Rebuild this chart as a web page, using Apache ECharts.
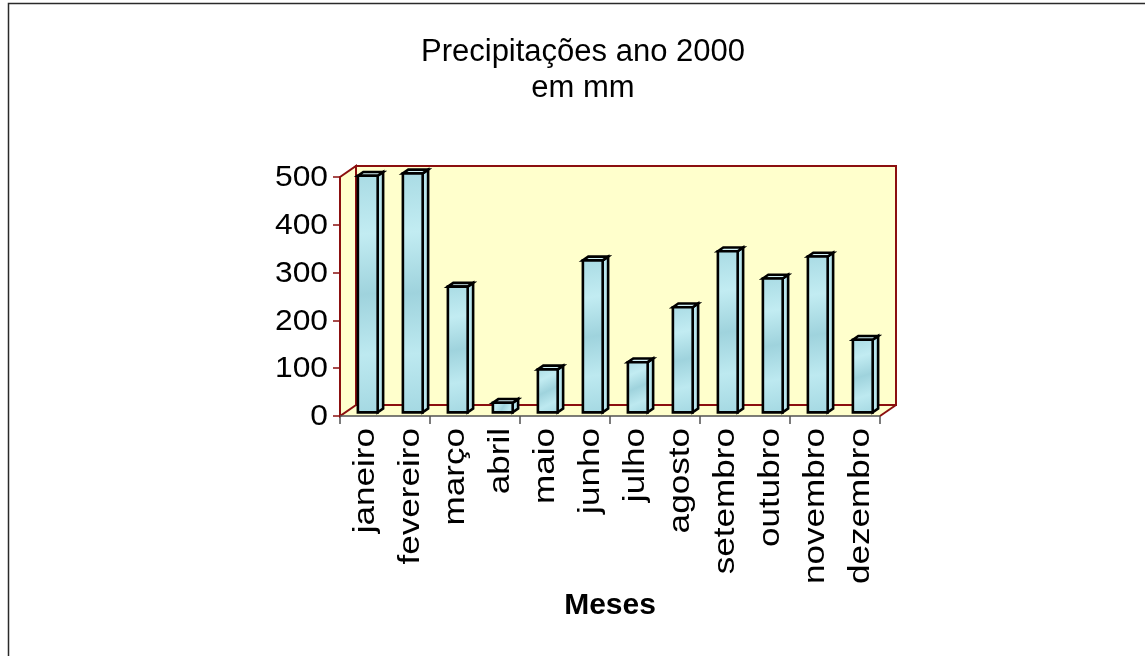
<!DOCTYPE html>
<html>
<head>
<meta charset="utf-8">
<title>Precipitações ano 2000</title>
<script src="https://cdn.jsdelivr.net/npm/echarts@6/dist/echarts.min.js"></script>
<style>
  html, body { margin: 0; padding: 0; background: #ffffff; }
  #chart { width: 1145px; height: 656px; }
</style>
</head>
<body>
<div id="chart"></div>
<script>
// Monthly rainfall for the year 2000, in millimetres
const months = ['janeiro', 'fevereiro', 'março', 'abril', 'maio', 'junho',
                'julho', 'agosto', 'setembro', 'outubro', 'novembro', 'dezembro'];
const rainfall = [495, 500, 263, 20, 90, 318, 105, 220, 337, 280, 326, 152];
const valueTicks = [0, 100, 200, 300, 400, 500];

const titleLines = ['Precipitações ano 2000', 'em mm'];
const xAxisTitle = 'Meses';

const FONT = '"Liberation Sans", Arial, sans-serif';
const WALL_EDGE = '#8b0f0f';
const WALL_FILL = '#ffffcc';
// 3D depth of the plot box (floor and walls recede up and to the right)
const DEPTH_X = 16;
const DEPTH_Y = 11;
// bars sit in the middle third of the depth
const BAR_NEAR = 0.33;
const BAR_FAR = 0.67;
const BAR_WIDTH_RATIO = 0.44;
// the axis lettering is drawn slightly wide
const H_TEXT_STRETCH = 1.06;
const V_TEXT_STRETCH = 1.17;

const chart = echarts.init(document.getElementById('chart'));

// Walls and floor of the 3D box, built from the grid rectangle
function renderWalls(params, api) {
  const cs = params.coordSys;
  const x0 = cs.x, x1 = cs.x + cs.width;
  const yTop = cs.y, yBot = cs.y + cs.height;
  const dx = DEPTH_X, dy = DEPTH_Y;
  const edge = { stroke: WALL_EDGE, lineWidth: 2, fill: null };
  return {
    type: 'group',
    children: [
      // floor
      { type: 'polygon', shape: { points: [[x0, yBot], [x0 + dx, yBot - dy], [x1 + dx, yBot - dy], [x1, yBot]] },
        style: { fill: WALL_FILL, stroke: null } },
      // left wall
      { type: 'polygon', shape: { points: [[x0, yTop], [x0 + dx, yTop - dy], [x0 + dx, yBot - dy], [x0, yBot]] },
        style: { fill: WALL_FILL, stroke: WALL_EDGE, lineWidth: 2, lineJoin: 'miter' } },
      // back wall
      { type: 'rect', shape: { x: x0 + dx, y: yTop - dy, width: cs.width, height: cs.height },
        style: { fill: WALL_FILL, stroke: WALL_EDGE, lineWidth: 2 } },
      // right floor edge
      { type: 'line', shape: { x1: x1, y1: yBot, x2: x1 + dx, y2: yBot - dy }, style: edge },
      // front floor edge
      { type: 'line', shape: { x1: x0, y1: yBot, x2: x1, y2: yBot }, style: { stroke: '#505050', lineWidth: 1.5 } }
    ]
  };
}

// One 3D column: front face, right side and top
function renderColumn(params, api) {
  const idx = api.value(0);
  const val = api.value(1);
  const base = api.coord([idx, 0]);
  const top = api.coord([idx, val]);
  const band = api.size([1, 0])[0];
  const w = band * BAR_WIDTH_RATIO;
  const sx = DEPTH_X * BAR_NEAR, sy = DEPTH_Y * BAR_NEAR;
  const dd = DEPTH_X * (BAR_FAR - BAR_NEAR), dh = DEPTH_Y * (BAR_FAR - BAR_NEAR);
  const xL = base[0] - w / 2 + sx, xR = xL + w;
  const yB = base[1] - sy, yT = top[1] - sy;
  const stroke = { stroke: '#000000', lineWidth: 2.6, lineJoin: 'miter' };
  const frontFill = new echarts.graphic.LinearGradient(0, 0, 1, 1, [
    { offset: 0, color: '#a9dbe4' },
    { offset: 0.25, color: '#c2ecf2' },
    { offset: 0.5, color: '#9fd3dd' },
    { offset: 0.75, color: '#bde9f0' },
    { offset: 1, color: '#a4d8e2' }
  ]);
  return {
    type: 'group',
    children: [
      { type: 'polygon', shape: { points: [[xR, yT], [xR + dd, yT - dh], [xR + dd, yB - dh], [xR, yB]] },
        style: Object.assign({ fill: '#b8e4ec' }, stroke) },
      { type: 'polygon', shape: { points: [[xL, yT], [xL + dd, yT - dh], [xR + dd, yT - dh], [xR, yT]] },
        style: Object.assign({ fill: '#d2f1f6' }, stroke) },
      { type: 'rect', shape: { x: xL, y: yT, width: w, height: yB - yT },
        style: Object.assign({ fill: frontFill }, stroke) }
    ]
  };
}

// Month names, written upward below each category tick
function renderMonthLabel(params, api) {
  const idx = api.value(0);
  const p = api.coord([idx, 0]);
  return {
    type: 'text',
    x: p[0] + 3,
    y: p[1] + 12,
    rotation: Math.PI / 2,
    scaleX: V_TEXT_STRETCH,
    style: {
      text: months[idx],
      fontFamily: FONT, fontSize: 30, fill: '#000000',
      align: 'right', verticalAlign: 'middle'
    }
  };
}

// Value labels to the left of the axis ticks
function renderValueLabel(params, api) {
  const v = api.value(1);
  const p = api.coord([0, v]);
  return {
    type: 'text',
    x: params.coordSys.x - 12,
    y: p[1] + 1,
    scaleX: H_TEXT_STRETCH,
    style: {
      text: String(v),
      fontFamily: FONT, fontSize: 30, fill: '#000000',
      align: 'right', verticalAlign: 'middle'
    }
  };
}

chart.setOption({
  animation: false,
  backgroundColor: '#ffffff',
  graphic: [
    // outer chart frame
    { type: 'rect', shape: { x: 8.5, y: 3.5, width: 1200, height: 700 },
      style: { fill: null, stroke: '#2a2a2a', lineWidth: 1.5 }, z: 100, silent: true },
    // chart title
    { type: 'text', x: 583, y: 52,
      style: { text: titleLines[0], fontFamily: FONT, fontSize: 31, fill: '#000000', align: 'center', verticalAlign: 'middle' } },
    { type: 'text', x: 583, y: 88,
      style: { text: titleLines[1], fontFamily: FONT, fontSize: 31, fill: '#000000', align: 'center', verticalAlign: 'middle' } },
    // category axis title
    { type: 'text', x: 610, y: 606,
      style: { text: xAxisTitle, fontFamily: FONT, fontSize: 30, fontWeight: 'bold', fill: '#000000', align: 'center', verticalAlign: 'middle' } }
  ],
  grid: { left: 340, top: 177, width: 540, height: 239 },
  xAxis: {
    type: 'category',
    data: months,
    axisLine: { show: false },
    axisTick: { show: true, length: 8, lineStyle: { color: '#505050', width: 1.5 } },
    axisLabel: { show: false },
    splitLine: { show: false }
  },
  yAxis: {
    type: 'value',
    min: valueTicks[0],
    max: valueTicks[valueTicks.length - 1],
    interval: valueTicks[1] - valueTicks[0],
    axisLine: { show: false },
    axisTick: { show: true, length: 7, lineStyle: { color: WALL_EDGE, width: 1.5 } },
    axisLabel: { show: false },
    splitLine: { show: false }
  },
  series: [
    {
      type: 'custom',
      name: 'box',
      renderItem: renderWalls,
      data: [0],
      z: 1,
      silent: true
    },
    {
      type: 'custom',
      name: 'Precipitações',
      renderItem: renderColumn,
      data: rainfall.map((v, i) => [i, v]),
      encode: { x: 0, y: 1 },
      z: 3
    },
    {
      type: 'custom',
      name: 'months',
      renderItem: renderMonthLabel,
      data: months.map((m, i) => [i, 0]),
      encode: { x: 0, y: 1 },
      silent: true,
      clip: false,
      z: 4
    },
    {
      type: 'custom',
      name: 'values',
      renderItem: renderValueLabel,
      data: valueTicks.map(v => [0, v]),
      encode: { x: 0, y: 1 },
      silent: true,
      clip: false,
      z: 4
    }
  ]
});
</script>
</body>
</html>
